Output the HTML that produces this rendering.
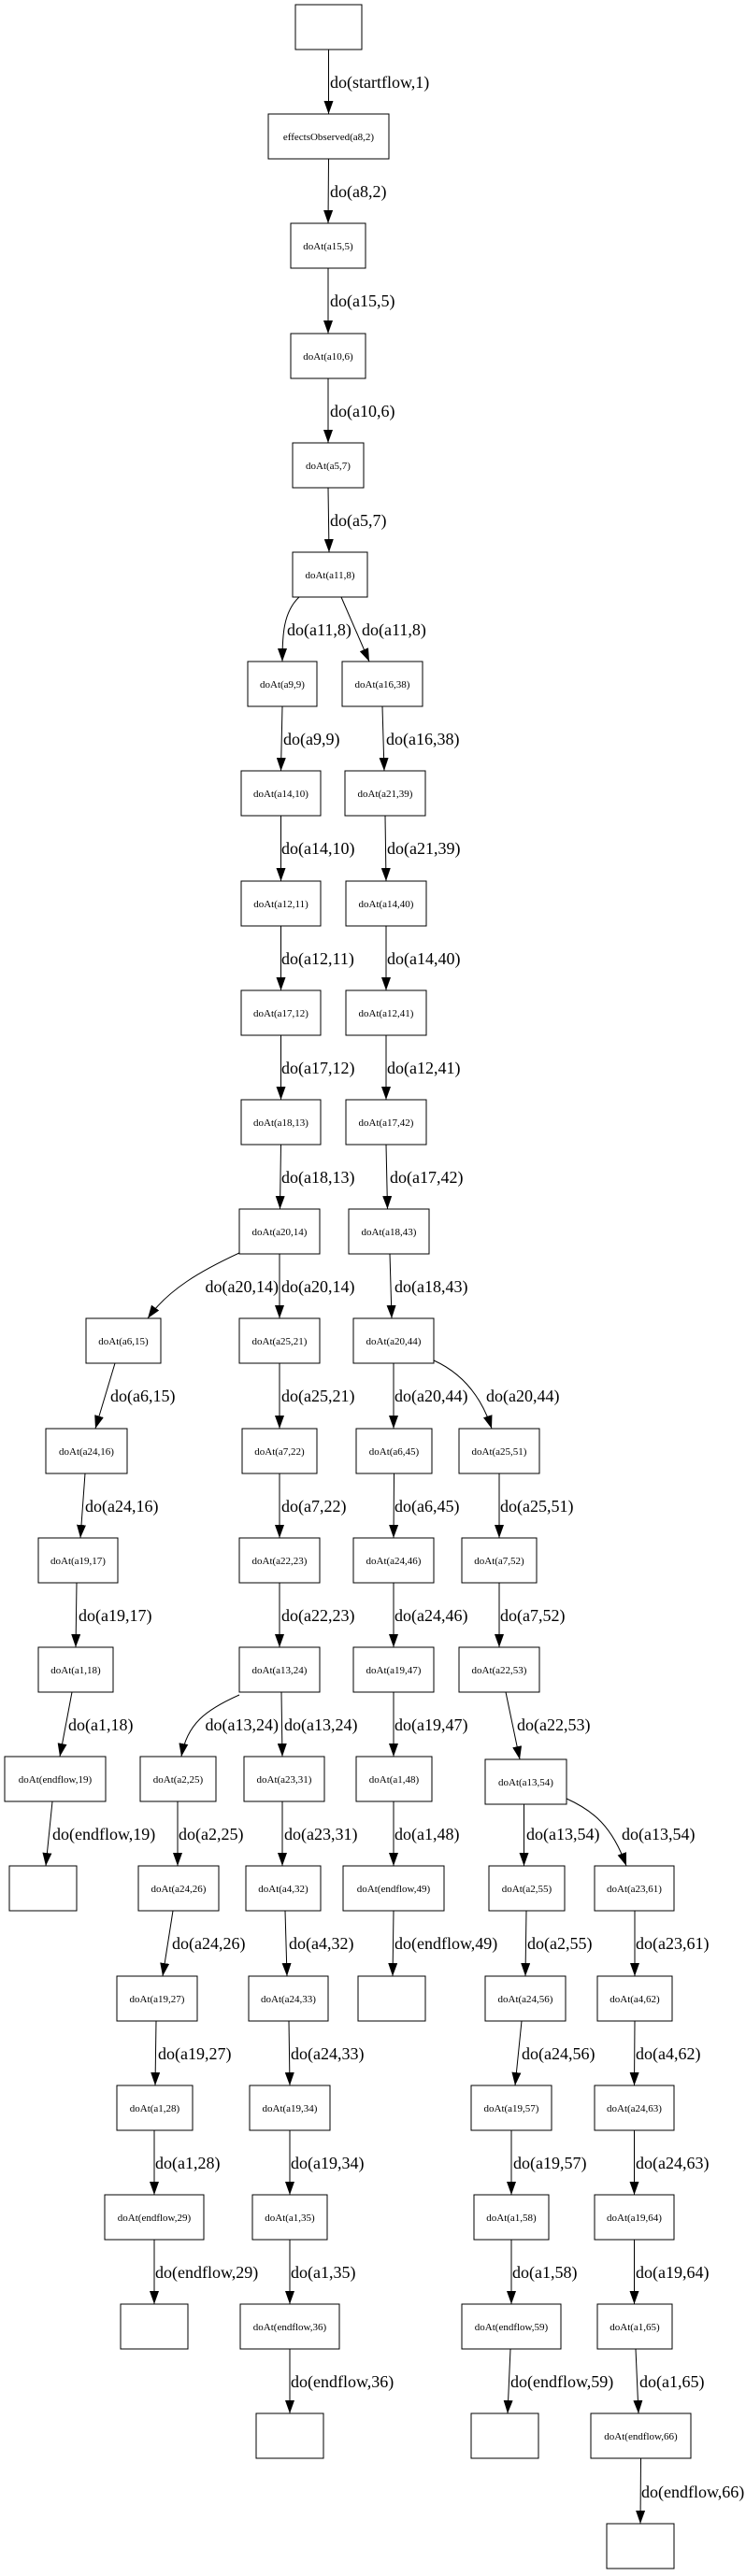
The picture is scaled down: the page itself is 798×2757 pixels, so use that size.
<!DOCTYPE html>
<html><head><meta charset="utf-8"><style>
html,body{margin:0;padding:0;background:#fff;}
svg{display:block;}
.n{fill:#fff;stroke:#000;stroke-width:1;}
.t{font-family:"Liberation Serif",serif;font-size:11px;text-anchor:middle;fill:#000;}
.l{font-family:"Liberation Serif",serif;font-size:18px;fill:#000;}
.e{fill:none;stroke:#000;stroke-width:1;marker-end:url(#a);}
</style></head><body>
<svg width="798" height="2757" viewBox="0 0 798 2757" xmlns="http://www.w3.org/2000/svg">
<defs><marker id="a" markerUnits="userSpaceOnUse" markerWidth="14" markerHeight="10" refX="14" refY="5" orient="auto"><path d="M0,0 L14,5 L0,10 z" fill="#000"/></marker></defs>

<!-- nodes -->
<rect class="n" x="316" y="5" width="71" height="48"/>
<rect class="n" x="287" y="122" width="129" height="48"/><text class="t" x="351.5" y="150">effectsObserved(a8,2)</text>
<rect class="n" x="311" y="239" width="80" height="48"/><text class="t" x="351" y="267">doAt(a15,5)</text>
<rect class="n" x="311" y="357" width="80" height="48"/><text class="t" x="351" y="385">doAt(a10,6)</text>
<rect class="n" x="313" y="474" width="76" height="48"/><text class="t" x="351" y="502">doAt(a5,7)</text>
<rect class="n" x="313" y="591" width="80" height="48"/><text class="t" x="353" y="619">doAt(a11,8)</text>

<rect class="n" x="265" y="708" width="74" height="48"/><text class="t" x="302" y="736">doAt(a9,9)</text>
<rect class="n" x="366" y="708" width="86" height="48"/><text class="t" x="409" y="736">doAt(a16,38)</text>
<rect class="n" x="258" y="825" width="85" height="48"/><text class="t" x="300.5" y="853">doAt(a14,10)</text>
<rect class="n" x="369" y="825" width="86" height="48"/><text class="t" x="412" y="853">doAt(a21,39)</text>
<rect class="n" x="258" y="943" width="85" height="48"/><text class="t" x="300.5" y="971">doAt(a12,11)</text>
<rect class="n" x="370" y="943" width="86" height="48"/><text class="t" x="413" y="971">doAt(a14,40)</text>
<rect class="n" x="258" y="1060" width="85" height="48"/><text class="t" x="300.5" y="1088">doAt(a17,12)</text>
<rect class="n" x="370" y="1060" width="86" height="48"/><text class="t" x="413" y="1088">doAt(a12,41)</text>
<rect class="n" x="258" y="1177" width="85" height="48"/><text class="t" x="300.5" y="1205">doAt(a18,13)</text>
<rect class="n" x="370" y="1177" width="86" height="48"/><text class="t" x="413" y="1205">doAt(a17,42)</text>
<rect class="n" x="256" y="1294" width="86" height="48"/><text class="t" x="299" y="1322">doAt(a20,14)</text>
<rect class="n" x="373" y="1294" width="86" height="48"/><text class="t" x="416" y="1322">doAt(a18,43)</text>

<rect class="n" x="92" y="1411" width="80" height="48"/><text class="t" x="132" y="1439">doAt(a6,15)</text>
<rect class="n" x="256" y="1411" width="86" height="48"/><text class="t" x="299" y="1439">doAt(a25,21)</text>
<rect class="n" x="378" y="1411" width="86" height="48"/><text class="t" x="421" y="1439">doAt(a20,44)</text>

<rect class="n" x="49" y="1529" width="87" height="48"/><text class="t" x="92.5" y="1557">doAt(a24,16)</text>
<rect class="n" x="259" y="1529" width="80" height="48"/><text class="t" x="299" y="1557">doAt(a7,22)</text>
<rect class="n" x="381" y="1529" width="81" height="48"/><text class="t" x="421.5" y="1557">doAt(a6,45)</text>
<rect class="n" x="491" y="1529" width="86" height="48"/><text class="t" x="534" y="1557">doAt(a25,51)</text>

<rect class="n" x="41" y="1646" width="85" height="48"/><text class="t" x="83.5" y="1674">doAt(a19,17)</text>
<rect class="n" x="256" y="1646" width="86" height="48"/><text class="t" x="299" y="1674">doAt(a22,23)</text>
<rect class="n" x="378" y="1646" width="86" height="48"/><text class="t" x="421" y="1674">doAt(a24,46)</text>
<rect class="n" x="494" y="1646" width="80" height="48"/><text class="t" x="534" y="1674">doAt(a7,52)</text>

<rect class="n" x="41" y="1763" width="80" height="48"/><text class="t" x="81" y="1791">doAt(a1,18)</text>
<rect class="n" x="256" y="1763" width="86" height="48"/><text class="t" x="299" y="1791">doAt(a13,24)</text>
<rect class="n" x="378" y="1763" width="86" height="48"/><text class="t" x="421" y="1791">doAt(a19,47)</text>
<rect class="n" x="491" y="1763" width="86" height="48"/><text class="t" x="534" y="1791">doAt(a22,53)</text>

<rect class="n" x="5" y="1880" width="108" height="48"/><text class="t" x="59" y="1908">doAt(endflow,19)</text>
<rect class="n" x="150" y="1880" width="81" height="48"/><text class="t" x="190.5" y="1908">doAt(a2,25)</text>
<rect class="n" x="261" y="1880" width="86" height="48"/><text class="t" x="304" y="1908">doAt(a23,31)</text>
<rect class="n" x="381" y="1880" width="81" height="48"/><text class="t" x="421.5" y="1908">doAt(a1,48)</text>
<rect class="n" x="519" y="1883" width="87" height="48"/><text class="t" x="562.5" y="1911">doAt(a13,54)</text>

<rect class="n" x="10" y="1997" width="72" height="48"/>
<rect class="n" x="148" y="1997" width="86" height="48"/><text class="t" x="191" y="2025">doAt(a24,26)</text>
<rect class="n" x="263" y="1997" width="80" height="48"/><text class="t" x="303" y="2025">doAt(a4,32)</text>
<rect class="n" x="367" y="1997" width="108" height="48"/><text class="t" x="421" y="2025">doAt(endflow,49)</text>
<rect class="n" x="523" y="1997" width="81" height="48"/><text class="t" x="563.5" y="2025">doAt(a2,55)</text>
<rect class="n" x="636" y="1997" width="85" height="48"/><text class="t" x="678.5" y="2025">doAt(a23,61)</text>

<rect class="n" x="125" y="2115" width="86" height="48"/><text class="t" x="168" y="2143">doAt(a19,27)</text>
<rect class="n" x="266" y="2115" width="85" height="48"/><text class="t" x="308.5" y="2143">doAt(a24,33)</text>
<rect class="n" x="383" y="2115" width="72" height="48"/>
<rect class="n" x="519" y="2115" width="86" height="48"/><text class="t" x="562" y="2143">doAt(a24,56)</text>
<rect class="n" x="639" y="2115" width="80" height="48"/><text class="t" x="679" y="2143">doAt(a4,62)</text>

<rect class="n" x="125" y="2232" width="81" height="48"/><text class="t" x="165.5" y="2260">doAt(a1,28)</text>
<rect class="n" x="267" y="2232" width="86" height="48"/><text class="t" x="310" y="2260">doAt(a19,34)</text>
<rect class="n" x="504" y="2232" width="86" height="48"/><text class="t" x="547" y="2260">doAt(a19,57)</text>
<rect class="n" x="636" y="2232" width="85" height="48"/><text class="t" x="678.5" y="2260">doAt(a24,63)</text>

<rect class="n" x="112" y="2349" width="106" height="48"/><text class="t" x="165" y="2377">doAt(endflow,29)</text>
<rect class="n" x="270" y="2349" width="80" height="48"/><text class="t" x="310" y="2377">doAt(a1,35)</text>
<rect class="n" x="507" y="2349" width="80" height="48"/><text class="t" x="547" y="2377">doAt(a1,58)</text>
<rect class="n" x="636" y="2349" width="85" height="48"/><text class="t" x="678.5" y="2377">doAt(a19,64)</text>

<rect class="n" x="129" y="2466" width="72" height="48"/>
<rect class="n" x="257" y="2466" width="106" height="48"/><text class="t" x="310" y="2494">doAt(endflow,36)</text>
<rect class="n" x="494" y="2466" width="106" height="48"/><text class="t" x="547" y="2494">doAt(endflow,59)</text>
<rect class="n" x="639" y="2466" width="80" height="48"/><text class="t" x="679" y="2494">doAt(a1,65)</text>

<rect class="n" x="274" y="2583" width="72" height="48"/>
<rect class="n" x="504" y="2583" width="72" height="48"/>
<rect class="n" x="632" y="2583" width="107" height="48"/><text class="t" x="685.5" y="2611">doAt(endflow,66)</text>

<rect class="n" x="649" y="2701" width="72" height="48"/>

<!-- edges -->
<path class="e" d="M351.5 53 L351.5 122"/><text class="l" x="353" y="94">do(startflow,1)</text>
<path class="e" d="M351.5 170 L351 239"/><text class="l" x="353" y="211">do(a8,2)</text>
<path class="e" d="M351 287 L351 357"/><text class="l" x="353" y="328">do(a15,5)</text>
<path class="e" d="M351 405 L351 474"/><text class="l" x="353" y="446">do(a10,6)</text>
<path class="e" d="M351 522 L352 591"/><text class="l" x="353" y="563">do(a5,7)</text>

<path class="e" d="M320 639 C 303 655, 302 680, 302 708"/><text class="l" x="307" y="680">do(a11,8)</text>
<path class="e" d="M365 639 L 395 708"/><text class="l" x="387" y="680">do(a11,8)</text>

<path class="e" d="M302 756 L300.5 825"/><text class="l" x="303" y="797">do(a9,9)</text>
<path class="e" d="M409 756 L411 825"/><text class="l" x="413" y="797">do(a16,38)</text>
<path class="e" d="M300.5 873 L300.5 943"/><text class="l" x="301" y="914">do(a14,10)</text>
<path class="e" d="M412 873 L413 943"/><text class="l" x="414" y="914">do(a21,39)</text>
<path class="e" d="M300.5 991 L300.5 1060"/><text class="l" x="301" y="1032">do(a12,11)</text>
<path class="e" d="M413 991 L413 1060"/><text class="l" x="414" y="1032">do(a14,40)</text>
<path class="e" d="M300.5 1108 L300.5 1177"/><text class="l" x="301" y="1149">do(a17,12)</text>
<path class="e" d="M413 1108 L413 1177"/><text class="l" x="414" y="1149">do(a12,41)</text>
<path class="e" d="M300.5 1225 L299.5 1294"/><text class="l" x="301" y="1266">do(a18,13)</text>
<path class="e" d="M413 1225 L414.5 1294"/><text class="l" x="417" y="1266">do(a17,42)</text>

<path class="e" d="M256 1341 C 215 1360, 180 1380, 158 1411"/><text class="l" x="298" y="1383" text-anchor="end">do(a20,14)</text>
<path class="e" d="M299 1342 L299 1411"/><text class="l" x="301" y="1383">do(a20,14)</text>
<path class="e" d="M417 1342 L419 1411"/><text class="l" x="422" y="1383">do(a18,43)</text>

<path class="e" d="M123 1459 L102 1529"/><text class="l" x="118" y="1500">do(a6,15)</text>
<path class="e" d="M299 1459 L299 1529"/><text class="l" x="301" y="1500">do(a25,21)</text>
<path class="e" d="M421 1459 L421 1529"/><text class="l" x="422" y="1500">do(a20,44)</text>
<path class="e" d="M464 1456 C 495 1470, 515 1495, 526 1529"/><text class="l" x="520" y="1500">do(a20,44)</text>

<path class="e" d="M91 1577 L86 1646"/><text class="l" x="91" y="1618">do(a24,16)</text>
<path class="e" d="M299 1577 L299 1646"/><text class="l" x="301" y="1618">do(a7,22)</text>
<path class="e" d="M421.5 1577 L421 1646"/><text class="l" x="422" y="1618">do(a6,45)</text>
<path class="e" d="M534 1577 L534 1646"/><text class="l" x="535" y="1618">do(a25,51)</text>

<path class="e" d="M82 1694 L81 1763"/><text class="l" x="84" y="1735">do(a19,17)</text>
<path class="e" d="M299 1694 L299 1763"/><text class="l" x="301" y="1735">do(a22,23)</text>
<path class="e" d="M421 1694 L421 1763"/><text class="l" x="422" y="1735">do(a24,46)</text>
<path class="e" d="M534 1694 L534 1763"/><text class="l" x="535" y="1735">do(a7,52)</text>

<path class="e" d="M77 1811 L64 1880"/><text class="l" x="73" y="1852">do(a1,18)</text>
<path class="e" d="M256 1814 C 220 1830, 200 1845, 194 1880"/><text class="l" x="298" y="1852" text-anchor="end">do(a13,24)</text>
<path class="e" d="M301 1811 L302 1880"/><text class="l" x="304" y="1852">do(a13,24)</text>
<path class="e" d="M421 1811 L421 1880"/><text class="l" x="422" y="1852">do(a19,47)</text>
<path class="e" d="M541 1811 L556 1883"/><text class="l" x="553" y="1852">do(a22,53)</text>

<path class="e" d="M56 1928 L49 1997"/><text class="l" x="56" y="1969">do(endflow,19)</text>
<path class="e" d="M190 1928 L190 1997"/><text class="l" x="191" y="1969">do(a2,25)</text>
<path class="e" d="M302 1928 L302 1997"/><text class="l" x="304" y="1969">do(a23,31)</text>
<path class="e" d="M421 1928 L421 1997"/><text class="l" x="422" y="1969">do(a1,48)</text>
<path class="e" d="M560.5 1931 L560.5 1997"/><text class="l" x="563" y="1969">do(a13,54)</text>
<path class="e" d="M606 1925 C 635 1938, 655 1955, 670 1997"/><text class="l" x="665" y="1969">do(a13,54)</text>

<path class="e" d="M185 2045 L174 2115"/><text class="l" x="184" y="2086">do(a24,26)</text>
<path class="e" d="M305 2045 L307 2115"/><text class="l" x="309" y="2086">do(a4,32)</text>
<path class="e" d="M421 2045 L420 2115"/><text class="l" x="422" y="2086">do(endflow,49)</text>
<path class="e" d="M563 2045 L562 2115"/><text class="l" x="564" y="2086">do(a2,55)</text>
<path class="e" d="M679 2045 L679 2115"/><text class="l" x="680" y="2086">do(a23,61)</text>

<path class="e" d="M167 2163 L166 2232"/><text class="l" x="169" y="2204">do(a19,27)</text>
<path class="e" d="M309 2163 L310 2232"/><text class="l" x="311" y="2204">do(a24,33)</text>
<path class="e" d="M558 2163 L551 2232"/><text class="l" x="558" y="2204">do(a24,56)</text>
<path class="e" d="M679 2163 L678.5 2232"/><text class="l" x="680" y="2204">do(a4,62)</text>

<path class="e" d="M165 2280 L165 2349"/><text class="l" x="166" y="2321">do(a1,28)</text>
<path class="e" d="M310 2280 L310 2349"/><text class="l" x="311" y="2321">do(a19,34)</text>
<path class="e" d="M547 2280 L547 2349"/><text class="l" x="549" y="2321">do(a19,57)</text>
<path class="e" d="M678.5 2280 L678.5 2349"/><text class="l" x="680" y="2321">do(a24,63)</text>

<path class="e" d="M165 2397 L165 2466"/><text class="l" x="166" y="2438">do(endflow,29)</text>
<path class="e" d="M310 2397 L310 2466"/><text class="l" x="311" y="2438">do(a1,35)</text>
<path class="e" d="M547 2397 L547 2466"/><text class="l" x="548" y="2438">do(a1,58)</text>
<path class="e" d="M678.5 2397 L678.5 2466"/><text class="l" x="680" y="2438">do(a19,64)</text>

<path class="e" d="M310 2514 L310 2583"/><text class="l" x="311" y="2555">do(endflow,36)</text>
<path class="e" d="M546 2514 L543 2583"/><text class="l" x="546" y="2555">do(endflow,59)</text>
<path class="e" d="M680 2514 L683 2583"/><text class="l" x="684" y="2555">do(a1,65)</text>

<path class="e" d="M685.5 2631 L685 2701"/><text class="l" x="686" y="2673">do(endflow,66)</text>
</svg>
</body></html>
